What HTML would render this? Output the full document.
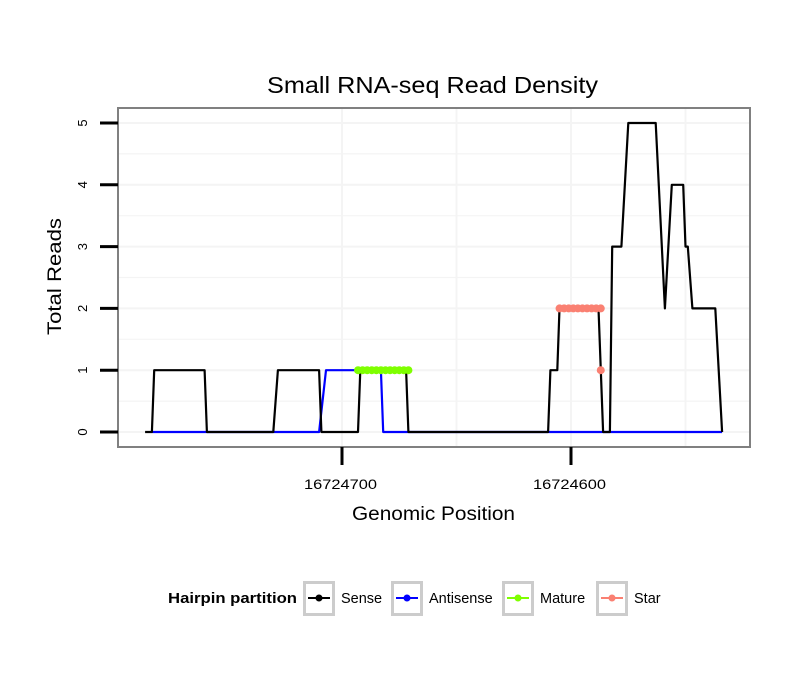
<!DOCTYPE html>
<html><head><meta charset="utf-8"><style>
body{margin:0;background:#fff;}
svg{display:block;font-family:"Liberation Sans",sans-serif;}
</style></head><body>
<svg id="c" width="810" height="690" xmlns="http://www.w3.org/2000/svg">
<rect width="810" height="690" fill="#fff"/>
<text x="267" y="93" font-size="23" textLength="331" lengthAdjust="spacingAndGlyphs">Small RNA-seq Read Density</text>
<g id="grid"></g>
<g id="series"></g>
<rect x="118" y="108" width="632" height="339" fill="none" stroke="#808080" stroke-width="2"/>
<g id="axes"></g>
<text x="352" y="520" font-size="19" textLength="163" lengthAdjust="spacingAndGlyphs">Genomic Position</text>
<text transform="translate(61,335) rotate(-90)" font-size="19" textLength="117" lengthAdjust="spacingAndGlyphs">Total Reads</text>
<g>
<text x="168" y="603" font-size="14.5" font-weight="bold" textLength="129" lengthAdjust="spacingAndGlyphs">Hairpin partition</text>
<g id="legend"></g>
</g>
</svg>
<script>
const yTicks=[0,1,2,3,4,5];
const xTicks=[16724700,16724600];
const xMinor=[16724650,16724550];
const senseX=[16724786,16724783,16724782,16724760,16724759,16724730,16724728,16724710,16724709,16724693,16724692,16724672,16724671,16724610,16724609,16724606,16724605,16724588,16724586,16724583,16724582,16724578,16724575,16724563,16724559,16724556,16724551,16724550,16724549,16724547,16724537,16724534];
const senseY=[0,0,1,1,0,0,1,1,0,0,1,1,0,0,1,1,2,2,0,0,3,3,5,5,2,4,4,3,3,2,2,0];
const antiX=[16724783,16724710,16724707,16724683,16724682,16724534];
const antiY=[0,0,1,1,0,0];
const matureX=[16724693,16724691,16724689,16724687,16724685,16724683,16724681,16724679,16724677,16724675,16724673,16724671];
const matureY=[1,1,1,1,1,1,1,1,1,1,1,1];
const starX=[16724605,16724603,16724601,16724599,16724597,16724595,16724593,16724591,16724589,16724587,16724587];
const starY=[2,2,2,2,2,2,2,2,2,2,1];
const legendLabels=["Sense","Antisense","Mature","Star"];
const legendColors=["#000000","#0000ff","#7fff00","#fa8072"];

const NS="http://www.w3.org/2000/svg";
function xs(p){return 342+(16724700-p)*2.29;}
function ys(v){return 432-v*61.8;}
function mk(tag,attrs,parent){const e=document.createElementNS(NS,tag);for(const k in attrs)e.setAttribute(k,attrs[k]);parent.appendChild(e);return e;}
const grid=document.getElementById('grid'),ser=document.getElementById('series'),ax=document.getElementById('axes'),lg=document.getElementById('legend');
for(let v=0;v<=5;v+=0.5){const l=mk('line',{x1:118,x2:750,y1:ys(v),y2:ys(v),stroke:'#f4f4f4','stroke-width':v%1===0?2:1.2},grid);

}
xTicks.concat(xMinor).forEach(p=>{const l=mk('line',{x1:xs(p),x2:xs(p),y1:108,y2:447,stroke:'#f4f4f4','stroke-width':2},grid);

});
function path(X,Y,c,name){let d=X.map((p,i)=>(i?'L':'M')+xs(p).toFixed(1)+','+ys(Y[i]).toFixed(1)).join('');
const e=mk('path',{d:d,fill:'none',stroke:c,'stroke-width':2.2,'stroke-linejoin':'round'},ser);

}
function pts(X,Y,c,name){X.forEach((p,i)=>{const e=mk('circle',{cx:xs(p),cy:ys(Y[i]),r:4,fill:c},ser);

});}
path(antiX,antiY,'#0000ff','antisense-line');
path(senseX,senseY,'#000000','sense-line');
pts(matureX,matureY,'#7fff00','mature-point');
pts(starX,starY,'#fa8072','star-point');
yTicks.forEach(v=>{const t=mk('line',{x1:100,x2:118,y1:ys(v),y2:ys(v),stroke:'#000','stroke-width':3},ax);


const tx=mk('text',{transform:`translate(87,${ys(v)}) rotate(-90)`,'font-size':13,'text-anchor':'middle'},ax);tx.textContent=v;

});
xTicks.forEach(p=>{const t=mk('line',{x1:xs(p),x2:xs(p),y1:447,y2:465,stroke:'#000','stroke-width':3},ax);


const tx=mk('text',{x:xs(p)-38,y:489,'font-size':13.5,textLength:73,lengthAdjust:'spacingAndGlyphs'},ax);tx.textContent=p;

});
const boxX=[303,391,502,596];
legendLabels.forEach((lab,i)=>{const x=boxX[i];
const b=mk('rect',{x:x+1.5,y:582.5,width:29,height:32,fill:'#fff',stroke:'#cccccc','stroke-width':3},lg);


mk('line',{x1:x+5,x2:x+27,y1:598,y2:598,stroke:legendColors[i],'stroke-width':2},lg);
mk('circle',{cx:x+16,cy:598,r:3.5,fill:legendColors[i]},lg);
const t=mk('text',{x:x+38,y:603,'font-size':14.5},lg);t.textContent=lab;

});
</script>
</body></html>
